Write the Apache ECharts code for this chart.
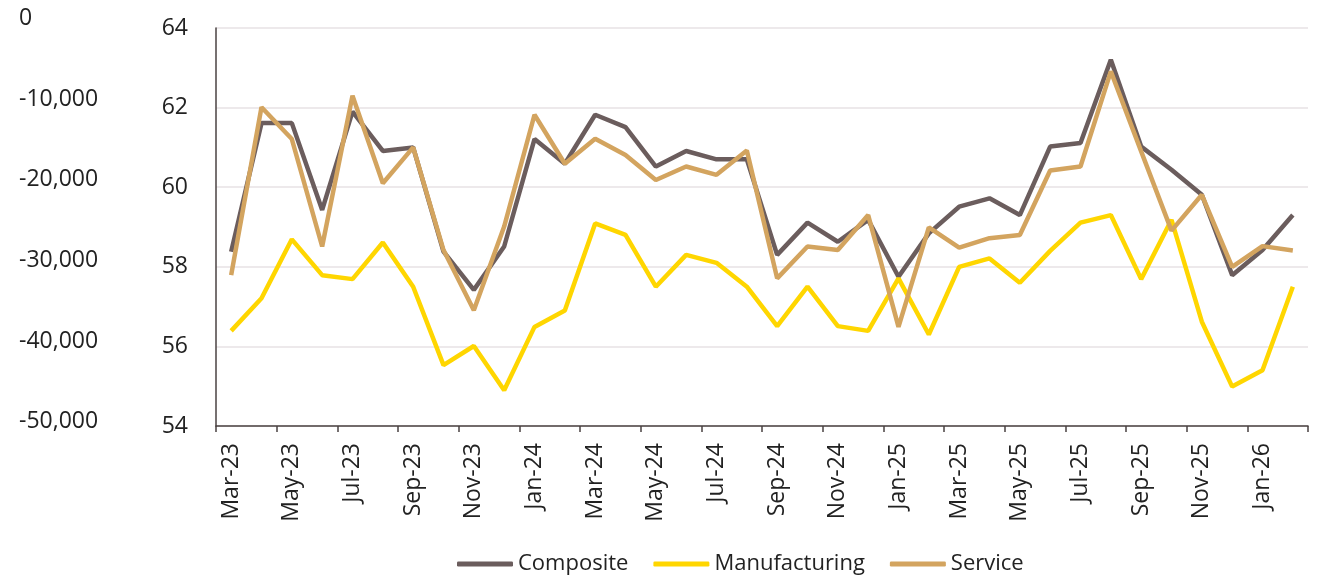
<!DOCTYPE html>
<html>
<head>
<meta charset="utf-8">
<script src="https://cdn.jsdelivr.net/npm/echarts@6/dist/echarts.min.js"></script>
<style>
html,body{margin:0;padding:0;background:#fff;}
#chart{width:1319px;height:577px;}
</style>
</head>
<body>
<div id="chart"></div>
<script>
const categories = ["Mar-23","Apr-23","May-23","Jun-23","Jul-23","Aug-23","Sep-23","Oct-23","Nov-23","Dec-23",
  "Jan-24","Feb-24","Mar-24","Apr-24","May-24","Jun-24","Jul-24","Aug-24","Sep-24","Oct-24","Nov-24","Dec-24",
  "Jan-25","Feb-25","Mar-25","Apr-25","May-25","Jun-25","Jul-25","Aug-25","Sep-25","Oct-25","Nov-25","Dec-25",
  "Jan-26","Feb-26"];
const composite = [58.38, 61.61, 61.61, 59.43, 61.90, 60.91, 61.00, 58.38, 57.42, 58.51,
  61.21, 60.59, 61.82, 61.51, 60.52, 60.91, 60.70, 60.70, 58.30, 59.11, 58.63, 59.18,
  57.75, 58.84, 59.51, 59.72, 59.30, 61.02, 61.11, 63.20, 61.02, 60.44, 59.81, 57.79,
  58.42, 59.30];
const manufacturing = [56.39, 57.21, 58.69, 57.79, 57.69, 58.61, 57.50, 55.53, 56.01, 54.90,
  56.49, 56.90, 59.09, 58.80, 57.50, 58.30, 58.10, 57.50, 56.51, 57.50, 56.51, 56.39,
  57.71, 56.30, 58.00, 58.21, 57.60, 58.40, 59.11, 59.30, 57.69, 59.18, 56.62, 54.99,
  55.40, 57.50];
const service = [57.79, 62.01, 61.21, 58.51, 62.30, 60.10, 61.00, 58.42, 56.91, 59.01,
  61.82, 60.59, 61.22, 60.81, 60.18, 60.52, 60.31, 60.92, 57.71, 58.51, 58.42, 59.30,
  56.49, 58.99, 58.48, 58.72, 58.80, 60.42, 60.52, 62.91, 60.90, 58.91, 59.81, 58.00,
  58.52, 58.41];
const rightTicks = {min: 54, max: 64, interval: 2};
const outerTicks = {min: -50000, max: 0, interval: 10000};

const FONT = "Open Sans";
const axisColor = "#4a4242";
const gridColor = "#e7e2e4";

const chart = echarts.init(document.getElementById('chart'), null, {renderer: 'canvas'});
chart.setOption({
  animation: false,
  backgroundColor: '#ffffff',
  textStyle: {fontFamily: FONT},
  grid: [
    {left: 216, right: 11, top: 28, bottom: 151},
    {left: 216, right: 11, top: 18.3, bottom: 155.3}
  ],
  legend: {
    left: 452, top: 548,
    itemWidth: 56, itemHeight: 5, itemGap: 25,
    icon: 'roundRect',
    textStyle: {fontFamily: FONT, fontSize: 22, color: '#222'},
    data: ['Composite', 'Manufacturing', 'Service']
  },
  xAxis: [
    {
      type: 'category', gridIndex: 0, data: categories, boundaryGap: true,
      axisLine: {show: true, lineStyle: {color: axisColor, width: 1.5}},
      axisTick: {show: true, interval: 1, length: 6, lineStyle: {color: axisColor, width: 1.5}},
      axisLabel: {interval: 1, rotate: 90, margin: 17, fontFamily: FONT, fontSize: 23, color: '#222'},
      splitLine: {show: false}
    },
    {type: 'category', gridIndex: 1, data: categories, show: false}
  ],
  yAxis: [
    {
      type: 'value', gridIndex: 0, position: 'left',
      min: rightTicks.min, max: rightTicks.max, interval: rightTicks.interval,
      axisLine: {show: true, lineStyle: {color: axisColor, width: 1.5}},
      axisTick: {show: false},
      axisLabel: {margin: 28, fontFamily: FONT, fontSize: 23, color: '#222', padding: [0, 0, 8, 0]},
      splitLine: {show: true, lineStyle: {color: gridColor, width: 1.5}}
    },
    {
      type: 'value', gridIndex: 1, position: 'left',
      min: outerTicks.min, max: outerTicks.max, interval: outerTicks.interval,
      axisLine: {show: false}, axisTick: {show: false}, splitLine: {show: false},
      axisLabel: {
        margin: 197, align: 'left', fontFamily: FONT, fontSize: 23, color: '#222',
        formatter: v => v.toLocaleString('en-US')
      }
    }
  ],
  series: [
    {name: 'Composite', type: 'line', xAxisIndex: 0, yAxisIndex: 0, data: composite,
     symbol: 'none', lineStyle: {color: '#6b5d5d', width: 4.5}, itemStyle: {color: '#6b5d5d'}},
    {name: 'Manufacturing', type: 'line', xAxisIndex: 0, yAxisIndex: 0, data: manufacturing,
     symbol: 'none', lineStyle: {color: '#ffd600', width: 4.5}, itemStyle: {color: '#ffd600'}},
    {name: 'Service', type: 'line', xAxisIndex: 0, yAxisIndex: 0, data: service,
     symbol: 'none', lineStyle: {color: '#d3a45f', width: 4.5}, itemStyle: {color: '#d3a45f'}}
  ]
});
</script>
</body>
</html>
